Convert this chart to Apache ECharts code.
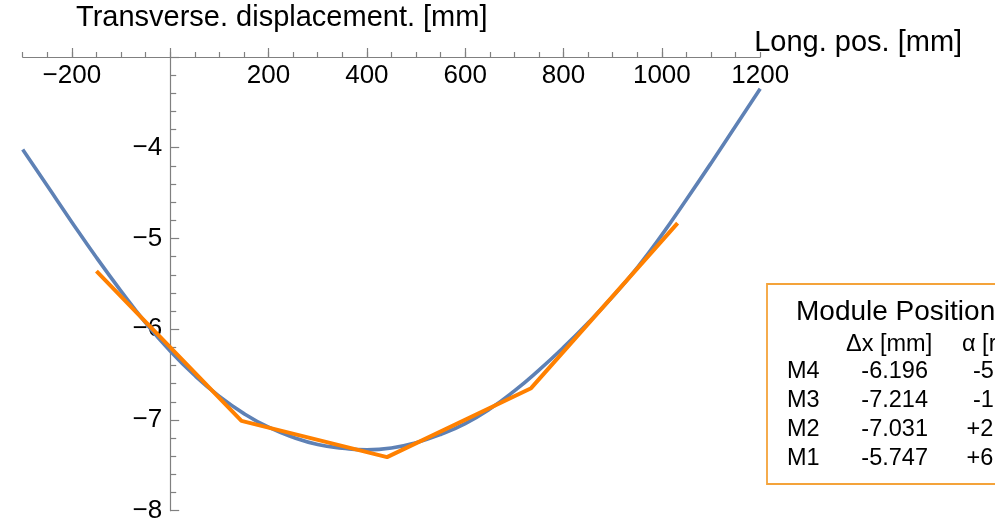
<!DOCTYPE html>
<html>
<head>
<meta charset="utf-8">
<script src="https://cdn.jsdelivr.net/npm/echarts@6/dist/echarts.min.js"></script>
<style>
html,body{margin:0;padding:0;background:#fff;}
#chart{width:995px;height:523px;}
</style>
</head>
<body>
<div id="chart"></div>
<script>
// ---- data ----
const curveX = [-300,-250,-200,-150,-100,-50,0,50,100,150,200,250,300,350,400,450,500,550,600,650,700,750,800,850,900,950,1000,1050,1100,1150,1200];
const curveY = [-4.02,-4.42,-4.82,-5.21,-5.58,-5.93,-6.24,-6.51,-6.74,-6.93,-7.08,-7.19,-7.27,-7.31,-7.33,-7.31,-7.25,-7.16,-7.04,-6.88,-6.68,-6.45,-6.20,-5.93,-5.64,-5.32,-4.96,-4.57,-4.17,-3.76,-3.35];
const moduleX = [-150, 145, 441, 734, 1032];
const moduleY = [-5.36, -7.01, -7.41, -6.65, -4.83];
const xMajorTicks = [-200, 0, 200, 400, 600, 800, 1000];
const xTickLabels = [-200, 200, 400, 600, 800, 1000, 1200];
const yTickLabels = [-8, -7, -6, -5, -4];
const tableNames = ['M4', 'M3', 'M2', 'M1'];
const tableDx = ['-6.196', '-7.214', '-7.031', '-5.747'];
const tableAlpha = ['-5', '-1', '+2', '+6'];
const tableTitle = 'Module Position';
const tableHeaders = ['\u0394x [mm]', '\u03b1 [rad]'];
const xTitle = 'Long. pos. [mm]';
const yTitle = 'Transverse. displacement. [mm]';

const FONT = '"Liberation Sans", Arial, sans-serif';
const AXIS_GREY = '#808080';
const minus = v => String(v).replace('-', '\u2212');

const chart = echarts.init(document.getElementById('chart'), null, {renderer: 'canvas'});

// table graphic
const tfs = 23.5;
const tableEls = [];
tableEls.push({type: 'rect', shape: {x: 767, y: 284, width: 400, height: 200},
  style: {fill: '#fff', stroke: '#F4A33A', lineWidth: 1.8}});
tableEls.push({type: 'text', x: 796, y: 312, style: {text: tableTitle, font: '28px ' + FONT, fill: '#000', textAlign: 'left', textVerticalAlign: 'middle'}});
tableEls.push({type: 'text', x: 846, y: 344.5, style: {text: tableHeaders[0], font: tfs + 'px ' + FONT, fill: '#000', textAlign: 'left', textVerticalAlign: 'middle'}});
tableEls.push({type: 'text', x: 962, y: 344.5, style: {text: tableHeaders[1], font: tfs + 'px ' + FONT, fill: '#000', textAlign: 'left', textVerticalAlign: 'middle'}});
tableNames.forEach((n, i) => {
  const y = 372 + i * 29;
  tableEls.push({type: 'text', x: 787, y: y, style: {text: n, font: tfs + 'px ' + FONT, fill: '#000', textAlign: 'left', textVerticalAlign: 'middle'}});
  tableEls.push({type: 'text', x: 928, y: y, style: {text: tableDx[i], font: tfs + 'px ' + FONT, fill: '#000', textAlign: 'right', textVerticalAlign: 'middle'}});
  const ax = tableAlpha[i].charAt(0) === '+' ? 966.5 : 973;
  tableEls.push({type: 'text', x: ax, y: y, style: {text: tableAlpha[i], font: tfs + 'px ' + FONT, fill: '#000', textAlign: 'left', textVerticalAlign: 'middle'}});
});

const option = {
  animation: false,
  backgroundColor: '#fff',
  grid: {left: 22.7, right: 234.8, top: 57, bottom: 12.3, containLabel: false, outerBoundsMode: 'none'},
  xAxis: [
    {
      type: 'value', position: 'top', min: -300, max: 1200, interval: 50,
      name: xTitle, nameLocation: 'end', nameGap: -6,
      nameTextStyle: {fontFamily: FONT, fontSize: 29, color: '#000', verticalAlign: 'bottom', lineHeight: 29, align: 'left'},
      axisLine: {show: true, onZero: false, lineStyle: {color: AXIS_GREY, width: 1.2}},
      axisTick: {show: true, inside: false, length: 5, lineStyle: {color: AXIS_GREY, width: 1.2}},
      axisLabel: {show: false},
      splitLine: {show: false}
    },
    {
      type: 'value', position: 'top', min: -300, max: 1200,
      axisLine: {show: false, onZero: false},
      axisTick: {show: true, inside: false, length: 9, customValues: xMajorTicks, lineStyle: {color: AXIS_GREY, width: 1.2}},
      axisLabel: {show: true, inside: true, margin: 6, customValues: xTickLabels, formatter: minus,
        fontFamily: FONT, fontSize: 26, color: '#000'},
      splitLine: {show: false}
    }
  ],
  yAxis: {
    type: 'value', position: 'left', offset: -147.5, min: -8, max: -3, interval: 1,
    axisLine: {show: true, onZero: false, lineStyle: {color: AXIS_GREY, width: 1.2}},
    axisTick: {show: true, inside: true, length: 9, lineStyle: {color: AXIS_GREY, width: 1.2}},
    minorTick: {show: true, splitNumber: 5, length: 6, lineStyle: {color: AXIS_GREY, width: 1.2}},
    axisLabel: {show: true, margin: 8, fontFamily: FONT, fontSize: 26, color: '#000',
      formatter: v => (yTickLabels.indexOf(v) >= 0 ? minus(v) : '')},
    splitLine: {show: false}
  },
  series: [
    {
      type: 'line', name: 'fit', xAxisIndex: 0, smooth: 0.5, showSymbol: false, symbol: 'none',
      data: curveX.map((x, i) => [x, curveY[i]]),
      lineStyle: {color: '#5E81B5', width: 3.6}, z: 3
    },
    {
      type: 'line', name: 'modules', xAxisIndex: 0, smooth: false, showSymbol: false, symbol: 'none',
      data: moduleX.map((x, i) => [x, moduleY[i]]),
      lineStyle: {color: '#FF8000', width: 4}, z: 4
    }
  ],
  graphic: [
    {type: 'text', x: 76, y: 18.2, style: {text: yTitle, font: '29px ' + FONT, fill: '#000', textAlign: 'left', textVerticalAlign: 'middle'}},
    {type: 'group', children: tableEls}
  ]
};
chart.setOption(option);
</script>
</body>
</html>
